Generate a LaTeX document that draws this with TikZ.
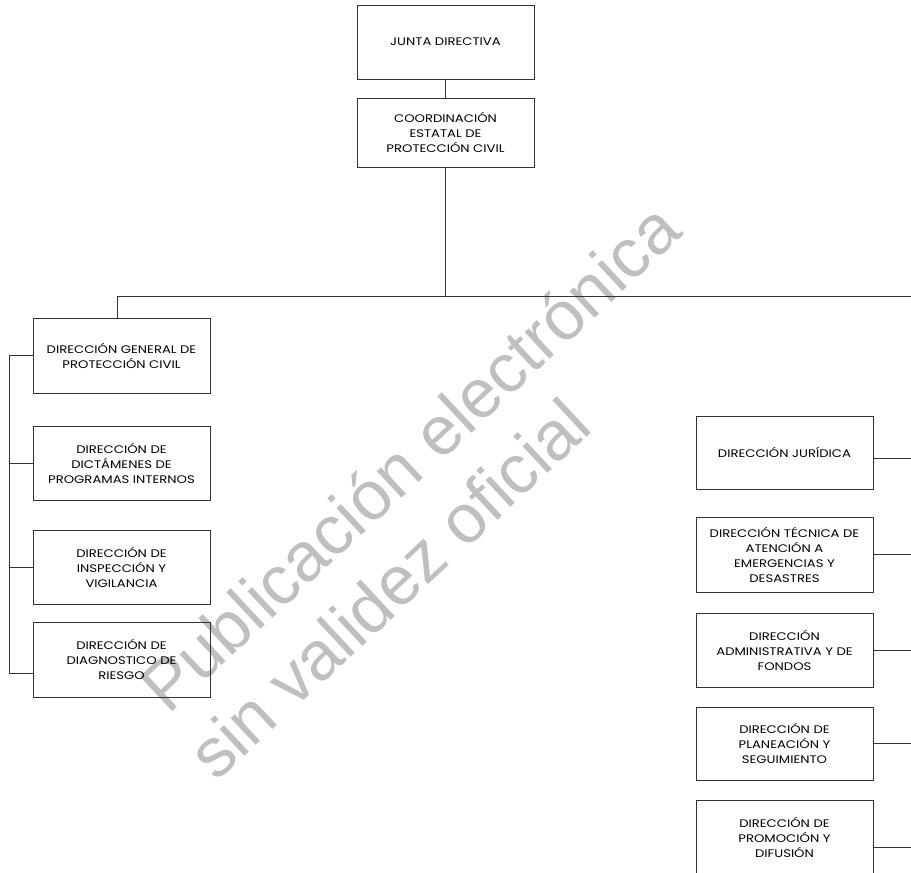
\documentclass[tikz,border=0pt]{standalone}
\usepackage{fontspec}
\setmainfont{Poppins}
\newfontfamily\cajafont[FakeStretch=1.2]{Poppins}
\newfontfamily\marcafont{Liberation Sans}
\usetikzlibrary{positioning}

\begin{document}
\begin{tikzpicture}[x=1pt,y=-1pt,
    unidad/.style={draw=black!80, line width=0.8pt, minimum width=177pt, minimum height=74pt,
                   align=center, inner sep=2pt, font=\cajafont\fontsize{11}{15}\selectfont},
    linea/.style={draw=black!80, line width=0.8pt},
    marca/.style={text=black!25, anchor=base west, rotate=43, inner sep=0pt,
                  font=\marcafont\fontsize{69}{80}\selectfont}]

\useasboundingbox (0,0) rectangle (911,873);
\clip (0,0) rectangle (911,873);

% marca de agua
\node[marca] (pub) at (168,716) {Publicación electrónica};
\node[marca] (sin) at (216,783) {sin validez oficial};

% cabeza
\node[unidad] (junta) at (445.5,42) {JUNTA DIRECTIVA};
\node[unidad, minimum height=69pt] (coord) at (445.5,132.5) {COORDINACIÓN\\ESTATAL DE\\PROTECCIÓN CIVIL};

% rama izquierda
\node[unidad, minimum height=75pt] (dg) at (121.5,355.5) {DIRECCIÓN GENERAL DE\\PROTECCIÓN CIVIL};
\node[unidad] (dict) at (121.5,463) {DIRECCIÓN DE\\DICTÁMENES DE\\PROGRAMAS INTERNOS};
\node[unidad] (insp) at (121.5,567) {DIRECCIÓN DE\\INSPECCIÓN Y\\VIGILANCIA};
\node[unidad, minimum height=75pt] (diag) at (121.5,659.5) {DIRECCIÓN DE\\DIAGNOSTICO DE\\RIESGO};

% rama derecha
\node[unidad, minimum height=73pt] (jur) at (784.5,452.5) {DIRECCIÓN JURÍDICA};
\node[unidad, minimum height=75pt] (tec) at (784.5,554.5) {DIRECCIÓN TÉCNICA DE\\ATENCIÓN A\\EMERGENCIAS Y\\DESASTRES};
\node[unidad] (adm) at (784.5,650) {DIRECCIÓN\\ADMINISTRATIVA Y DE\\FONDOS};
\node[unidad, minimum height=73pt] (plan) at (784.5,743.5) {DIRECCIÓN DE\\PLANEACIÓN Y\\SEGUIMIENTO};
\node[unidad] (prom) at (784.5,837) {DIRECCIÓN DE\\PROMOCIÓN Y\\DIFUSIÓN};

% lineas
\coordinate (busL) at (117,296);
\coordinate (busR) at (911,296);
\coordinate (troncoL) at (9,0);
\coordinate (troncoR) at (911,0);

\draw[linea] (junta) -- (coord);
\draw[linea] (coord.south) -- (coord.south |- busR);
\draw[linea] (busL) -- (busR);
\draw[linea] (busL) -- (busL |- dg.north);

\foreach \n/\dy in {dg/0, dict/0, insp/0, diag/-13.5}
    \draw[linea] ([yshift=\dy pt]\n.west) -- ([yshift=\dy pt]\n.west -| troncoL);
\draw[linea] (dg.west -| troncoL) -- ([yshift=-13.5pt]diag.west -| troncoL);

\foreach \n/\dy in {jur/-5.5, tec/0, adm/0, plan/0, prom/-10}
    \draw[linea] ([yshift=\dy pt]\n.east) -- ([yshift=\dy pt]\n.east -| troncoR);

\end{tikzpicture}
\end{document}
